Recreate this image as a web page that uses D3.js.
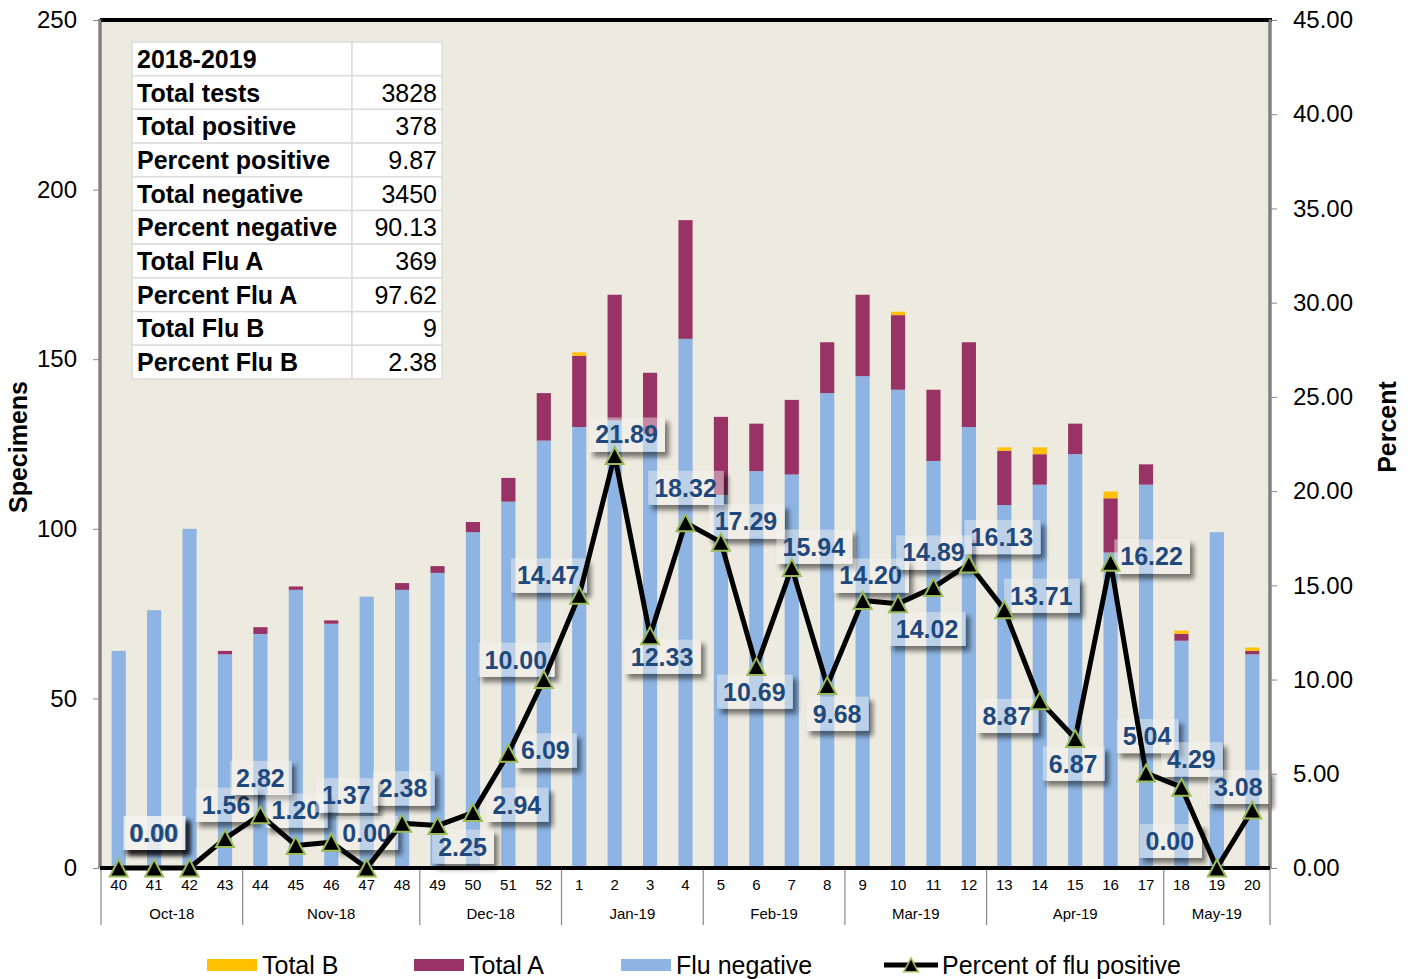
<!DOCTYPE html>
<html>
<head>
<meta charset="utf-8">
<script src="https://cdnjs.cloudflare.com/ajax/libs/d3/7.8.5/d3.min.js"></script>
<style>
  body { margin: 0; background: #fff; }
  svg { font-family: Arial, "Liberation Sans", sans-serif; }
</style>
</head>
<body>
<script>
// weekly data, season 2018-2019
const weeks = ["40","41","42","43","44","45","46","47","48","49","50","51","52",
               "1","2","3","4","5","6","7","8","9","10","11","12",
               "13","14","15","16","17","18","19","20"];
const fluNegative = [64,76,100,63,69,82,72,80,82,87,99,108,126,
                     130,132,128,156,110,117,116,140,145,141,120,130,
                     107,113,122,93,113,67,99,63];
const totalA = [0,0,0,1,2,1,1,0,2,2,3,7,14,
                21,37,18,35,23,14,22,15,24,22,21,25,
                16,9,9,16,6,2,0,1];
const totalB = [0,0,0,0,0,0,0,0,0,0,0,0,0,
                1,0,0,0,0,0,0,0,0,1,0,0,
                1,2,0,2,0,1,0,1];
const percentPositive = [0.00,0.00,0.00,1.56,2.82,1.20,1.37,0.00,2.38,2.25,2.94,6.09,10.00,
                         14.47,21.89,12.33,18.32,17.29,10.69,15.94,9.68,14.20,14.02,14.89,16.13,
                         13.71,8.87,6.87,16.22,5.04,4.29,0.00,3.08];
const months = ["Oct-18","Nov-18","Dec-18","Jan-19","Feb-19","Mar-19","Apr-19","May-19"];
const weeksPerMonth = [4,5,4,4,4,4,5,3];

const summaryTitle = "2018-2019";
const summaryLabels = ["Total tests","Total positive","Percent positive","Total negative",
                       "Percent negative","Total Flu A","Percent Flu A","Total Flu B","Percent Flu B"];
const summaryValues = ["3828","378","9.87","3450","90.13","369","97.62","9","2.38"];

const leftTicks = [0,50,100,150,200,250];
const rightTicks = [0,5,10,15,20,25,30,35,40,45];

// where each percent label sits relative to its point (dx, dy)
const labelOffsets = [[36,-35],[0,-35],[-36,-35],[1,-34],[0,-37],[0,-35],[15,-47],[0,-35],[1,-35],
  [25,21],[44,-8],[37,-3],[-28,-20],[-31,-20],[12,-21],[12,21],[0,-35],[25,-21],[-2,25],
  [22,-21],[10,28],[8,-25],[29,25],[0,-35],[33,-27],[37,-14],[-33,15],[-2,25],[41,-6],
  [1,-37],[10,-28],[-47,-27],[-14,-23]];

const W = 1412, H = 979;
const pLeft = 100, pRight = 1270, pTop = 20, pBottom = 868;

const colors = {neg: "#8DB4E2", A: "#993366", B: "#FFC000"};

const svg = d3.select("body").append("svg")
  .attr("width", W).attr("height", H);

const defs = svg.append("defs");
const f = defs.append("filter").attr("id", "shadow")
  .attr("x", "-20%").attr("y", "-40%").attr("width", "150%").attr("height", "190%");
f.append("feComponentTransfer").attr("in", "SourceAlpha").attr("result", "solid")
  .append("feFuncA").attr("type", "linear").attr("slope", 20);
f.append("feOffset").attr("in", "solid").attr("dx", 4).attr("dy", 5).attr("result", "off");
f.append("feGaussianBlur").attr("in", "off").attr("stdDeviation", 2.5).attr("result", "blur");
f.append("feComposite").attr("in", "blur").attr("in2", "solid").attr("operator", "out").attr("result", "sh");
f.append("feComponentTransfer").attr("in", "sh").attr("result", "sh2")
  .append("feFuncA").attr("type", "linear").attr("slope", 0.5);
const fm = f.append("feMerge");
fm.append("feMergeNode").attr("in", "sh2");
fm.append("feMergeNode").attr("in", "SourceGraphic");

const x = d3.scaleBand().domain(weeks).range([pLeft + 1, pRight])
  .paddingInner(0.6).paddingOuter(0.3);
const yL = d3.scaleLinear().domain([0, 250]).range([pBottom, pTop]);
const yR = d3.scaleLinear().domain([0, 45]).range([pBottom, pTop]);

// plot background
svg.append("rect").attr("x", pLeft).attr("y", pTop)
  .attr("width", pRight - pLeft).attr("height", pBottom - pTop)
  .attr("fill", "#EDEADF");

// stacked bars
const rows = weeks.map((w, i) => ({week: w, neg: fluNegative[i], A: totalA[i], B: totalB[i]}));
const stack = d3.stack().keys(["neg", "A", "B"])(rows);

svg.append("g").selectAll("g")
  .data(stack).join("g")
  .attr("fill", d => colors[d.key])
  .selectAll("rect")
  .data(d => d.filter(s => s[1] > s[0]))
  .join("rect")
  .attr("x", d => x(d.data.week))
  .attr("width", x.bandwidth())
  .attr("y", d => yL(d[1]))
  .attr("height", d => yL(d[0]) - yL(d[1]));

// percent labels (drawn under the line)
const cx = i => x(weeks[i]) + x.bandwidth() / 2;
const labels = svg.append("g");
percentPositive.forEach((p, i) => {
  const lx = cx(i) + labelOffsets[i][0];
  const ly = yR(p) + labelOffsets[i][1];
  const g = labels.append("g");
  const t = g.append("text")
    .attr("x", lx).attr("y", ly).attr("dy", "0.36em")
    .attr("text-anchor", "middle")
    .attr("font-size", 25).attr("font-weight", "bold")
    .attr("fill", "#1F497D")
    .text(d3.format(".2f")(p));
  const tw = t.node().getComputedTextLength();
  g.insert("rect", "text")
    .attr("x", lx - tw / 2 - 6).attr("y", ly - 17)
    .attr("width", tw + 13).attr("height", 34)
    .attr("fill", "rgba(246,245,240,0.45)")
    .attr("filter", "url(#shadow)");
});

// frame
svg.append("line").attr("x1", pLeft).attr("x2", pRight + 2).attr("y1", pTop).attr("y2", pTop)
  .attr("stroke", "#000").attr("stroke-width", 4);
[pLeft, pRight].forEach(xx => {
  svg.append("line").attr("x1", xx).attr("x2", xx).attr("y1", pTop - 1).attr("y2", pBottom)
    .attr("stroke", "#4a4a4a").attr("stroke-width", 3);
  svg.append("line").attr("x1", xx).attr("x2", xx).attr("y1", pTop).attr("y2", pBottom)
    .attr("stroke", "#b8b8b8").attr("stroke-width", 1);
});

// axes
const axL = svg.append("g").attr("transform", `translate(${pLeft - 1},0)`)
  .call(d3.axisLeft(yL).tickValues(leftTicks).tickSize(6).tickPadding(16));
const axR = svg.append("g").attr("transform", `translate(${pRight + 1},0)`)
  .call(d3.axisRight(yR).tickValues(rightTicks).tickSize(6).tickPadding(16).tickFormat(d3.format(".2f")));
[axL, axR].forEach(a => {
  a.select(".domain").remove();
  a.selectAll(".tick line").attr("stroke", "#888");
  a.selectAll(".tick text").attr("font-size", 24).attr("fill", "#000");
});

const axB = svg.append("g").attr("transform", `translate(0,${pBottom})`)
  .call(d3.axisBottom(x).tickSize(0).tickPadding(11));
axB.select(".domain").remove();
axB.selectAll(".tick text").attr("font-size", 15).attr("fill", "#000");

// month groups below week numbers
let start = 0;
const step = x.step();
const edges = [pLeft + 1];
months.forEach((m, k) => {
  const n = weeksPerMonth[k];
  const x0 = x(weeks[start]) - step * x.paddingInner() / 2;
  const x1 = x(weeks[start + n - 1]) + x.bandwidth() + step * x.paddingInner() / 2;
  svg.append("text").attr("x", (x0 + x1) / 2).attr("y", 914).attr("dy", "0.35em")
    .attr("text-anchor", "middle").attr("font-size", 15).text(m);
  edges.push(Math.min(x1, pRight));
  start += n;
});
svg.append("g").selectAll("line").data(edges).join("line")
  .attr("x1", d => d).attr("x2", d => d).attr("y1", pBottom).attr("y2", 925)
  .attr("stroke", "#888").attr("stroke-width", 1.2);

// zero line
svg.append("line").attr("x1", pLeft).attr("x2", pRight).attr("y1", pBottom).attr("y2", pBottom)
  .attr("stroke", "#000").attr("stroke-width", 4);

// percent line and markers
const line = d3.line().x((d, i) => cx(i)).y(d => yR(d));
svg.append("path").datum(percentPositive)
  .attr("d", line).attr("fill", "none")
  .attr("stroke", "#000").attr("stroke-width", 5).attr("stroke-linejoin", "round");

const tri = "M0,-8.5L9,8.5L-9,8.5Z";
svg.append("g").selectAll("path").data(percentPositive).join("path")
  .attr("d", tri)
  .attr("transform", (d, i) => `translate(${cx(i)},${yR(d)})`)
  .attr("fill", "#000").attr("stroke", "#9BBB59").attr("stroke-width", 2);

// axis titles
svg.append("text").attr("transform", "translate(27,447) rotate(-90)")
  .attr("text-anchor", "middle").attr("font-size", 25).attr("font-weight", "bold")
  .text("Specimens");
svg.append("text").attr("transform", "translate(1396,427) rotate(-90)")
  .attr("text-anchor", "middle").attr("font-size", 25).attr("font-weight", "bold")
  .text("Percent");

// summary table
const tb = svg.append("g").attr("transform", "translate(132,42)");
const rowH = 33.7, c1 = 220, c2 = 90;
const tRows = [[summaryTitle, ""]].concat(summaryLabels.map((l, i) => [l, summaryValues[i]]));
tRows.forEach((r, i) => {
  tb.append("rect").attr("x", 0).attr("y", i * rowH).attr("width", c1).attr("height", rowH)
    .attr("fill", "#fff").attr("stroke", "#dcdcdc").attr("stroke-width", 1.5);
  tb.append("rect").attr("x", c1).attr("y", i * rowH).attr("width", c2).attr("height", rowH)
    .attr("fill", "#fff").attr("stroke", "#dcdcdc").attr("stroke-width", 1.5);
  tb.append("text").attr("x", 5).attr("y", i * rowH + rowH / 2).attr("dy", "0.36em")
    .attr("font-size", 25).attr("font-weight", "bold").text(r[0]);
  tb.append("text").attr("x", c1 + c2 - 5).attr("y", i * rowH + rowH / 2).attr("dy", "0.36em")
    .attr("text-anchor", "end").attr("font-size", 25).text(r[1]);
});

// legend
const legY = 965;
const legendItems = [["Total B", colors.B, 207], ["Total A", colors.A, 414], ["Flu negative", colors.neg, 621]];
legendItems.forEach(([name, c, lx]) => {
  svg.append("rect").attr("x", lx).attr("y", legY - 6).attr("width", 50).attr("height", 12).attr("fill", c);
  svg.append("text").attr("x", lx + 55).attr("y", legY).attr("dy", "0.36em")
    .attr("font-size", 25).text(name);
});
svg.append("line").attr("x1", 884).attr("x2", 938).attr("y1", legY).attr("y2", legY)
  .attr("stroke", "#000").attr("stroke-width", 5);
svg.append("path").attr("d", tri).attr("transform", `translate(911,${legY}) scale(0.8)`)
  .attr("fill", "#000").attr("stroke", "#9BBB59").attr("stroke-width", 2);
svg.append("text").attr("x", 942).attr("y", legY).attr("dy", "0.36em")
  .attr("font-size", 25).text("Percent of flu positive");
</script>
</body>
</html>
